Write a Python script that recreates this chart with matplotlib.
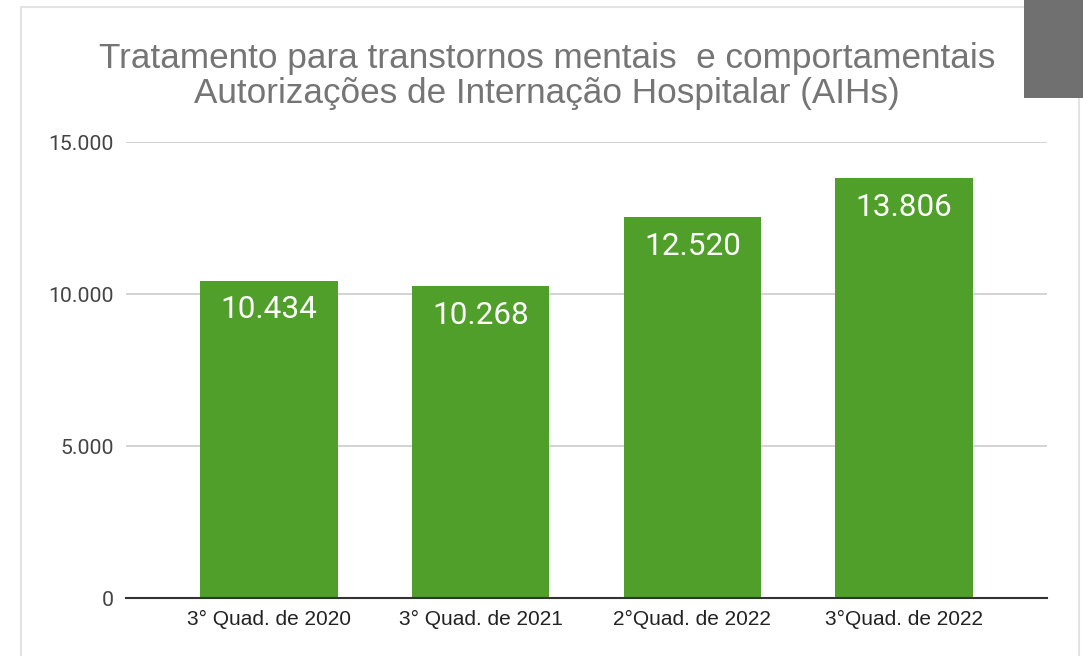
import matplotlib
matplotlib.use("Agg")
import matplotlib.pyplot as plt
from matplotlib.patches import Rectangle
from matplotlib.ticker import FuncFormatter

# data
categorias = ["3° Quad. de 2020", "3° Quad. de 2021", "2°Quad. de 2022", "3°Quad. de 2022"]
aihs = [10434, 10268, 12520, 13806]
yticks = [0, 5000, 10000, 15000]

W, H = 1083, 656
verde = "#4f9f2a"

fig = plt.figure(figsize=(W / 100, H / 100), dpi=100)
fig.patch.set_facecolor("white")

# chart frame and the grey block in the corner
fig.patches.append(Rectangle((21 / W, -0.1), (1079 - 21) / W, 1.1 - 7 / H,
                             transform=fig.transFigure, fill=False,
                             edgecolor="#e3e3e3", linewidth=1.5))
fig.patches.append(Rectangle((1024 / W, 1 - 98 / H), (W - 1024) / W, 98 / H,
                             transform=fig.transFigure, facecolor="#707070",
                             edgecolor="none", zorder=5))

ax = fig.add_axes([126 / W, 1 - 598 / H, (1047 - 126) / W, (598 - 142) / H])
x = range(len(categorias))
ax.bar(x, aihs, width=0.65, color=verde, zorder=3)
ax.set_xlim(-0.675, len(categorias) - 1 + 0.675)
ax.set_ylim(0, 15000)

for xi, v in zip(x, aihs):
    ax.annotate(f"{v:,}".replace(",", "."), (xi, v), xytext=(0, -21),
                textcoords="offset points", ha="center", va="center",
                color="white", fontsize=22.7, fontfamily="Roboto", zorder=4)

ax.set_yticks(yticks)
ax.yaxis.set_major_formatter(FuncFormatter(lambda v, p: f"{int(v):,}".replace(",", ".")))
ax.grid(axis="y", color="#cccccc", linewidth=1.2, zorder=0)
ax.set_xticks(list(x))
ax.set_xticklabels(categorias, fontfamily="Liberation Sans", fontsize=15, color="#222222")
for lab in ax.get_yticklabels():
    lab.set_fontfamily("Roboto")
    lab.set_fontsize(15.3)
    lab.set_color("#444444")
ax.tick_params(axis="y", length=0, pad=9)
ax.tick_params(axis="x", length=0, pad=8.5)
for s in ["top", "right", "left"]:
    ax.spines[s].set_visible(False)
ax.spines["bottom"].set_color("#333333")
ax.spines["bottom"].set_linewidth(1.5)
ax.spines["bottom"].set_zorder(4)

fig.text(547 / W, 1 - 68 / H, "Tratamento para transtornos mentais  e comportamentais",
         ha="center", va="baseline", fontsize=25.3, color="#757575", fontfamily="Liberation Sans")
fig.text(547 / W, 1 - 103 / H, "Autorizações de Internação Hospitalar (AIHs)",
         ha="center", va="baseline", fontsize=25.3, color="#757575", fontfamily="Liberation Sans")

fig.savefig("out.png", dpi=100)
